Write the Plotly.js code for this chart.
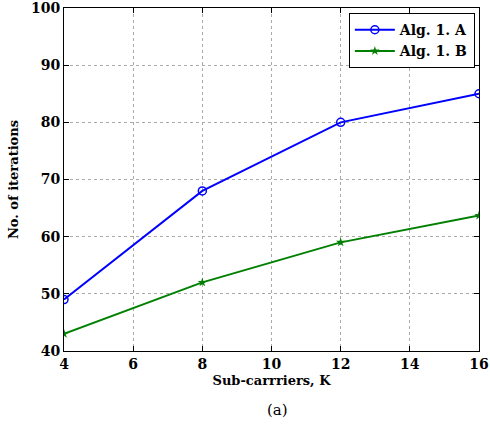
<!DOCTYPE html>
<html><head><meta charset="utf-8">
<script src="https://cdn.plot.ly/plotly-3.0.1.min.js"></script>
<style>body{margin:0;background:#fff}#c{width:490px;height:427px}</style>
</head><body><div id="c"></div>
<script>
var subCarriers = [4, 8, 12, 16];
var algA = [49, 68, 80, 85];
var algB = [43, 52, 59, 63.7];
var xTicks = [4, 6, 8, 10, 12, 14, 16];
var yTicks = [40, 50, 60, 70, 80, 90, 100];

var F = "'DejaVu Serif', 'Liberation Serif', serif";
var data = [
  {x: subCarriers, y: algA, mode: 'lines+markers', name: '<b>Alg. 1. A</b>',
   line: {color: '#0000ff', width: 2}, marker: {symbol: 'circle-open', size: 8, color: '#0000ff', line: {width: 1.5}}},
  {x: subCarriers, y: algB, mode: 'lines+markers', name: '<b>Alg. 1. B</b>',
   line: {color: '#008000', width: 2}, marker: {symbol: 'star', size: 7, color: '#008000'}}
];
var axisCommon = {
  showline: true, mirror: 'ticks', linecolor: '#000', linewidth: 1,
  ticks: 'inside', ticklen: 5, tickcolor: '#000',
  showgrid: true, gridcolor: '#aaa', griddash: 'dot', gridwidth: 1,
  zeroline: false, ticklabeloverflow: 'allow',
  tickfont: {family: F, size: 14, color: '#000', weight: 'bold'}
};
var layout = {
  width: 490, height: 427,
  margin: {l: 64, r: 11, t: 8, b: 76},
  paper_bgcolor: '#fff', plot_bgcolor: '#fff',
  showlegend: true,
  font: {family: F, color: '#000'},
  xaxis: Object.assign({}, axisCommon, {range: [4, 16], tickvals: xTicks,
    title: {text: '<b>Sub-carrriers, K</b>', font: {family: F, size: 13}, standoff: 5}}),
  yaxis: Object.assign({}, axisCommon, {range: [40, 100], tickvals: yTicks,
    title: {text: '<b>No. of iterations</b>', font: {family: F, size: 13}, standoff: 9}}),
  legend: {x: 0.99, y: 0.985, xanchor: 'right', yanchor: 'top',
    bgcolor: '#fff', bordercolor: '#000', borderwidth: 1, itemwidth: 40,
    font: {family: F, size: 14, color: '#000'}, tracegroupgap: 0},
  annotations: [{text: '(a)', xref: 'paper', yref: 'paper', x: 0.515, y: -0.172,
    xanchor: 'center', yanchor: 'middle', showarrow: false, font: {family: F, size: 15, color: '#000'}}]
};
Plotly.newPlot('c', data, layout, {displayModeBar: false, staticPlot: true});
</script></body></html>
